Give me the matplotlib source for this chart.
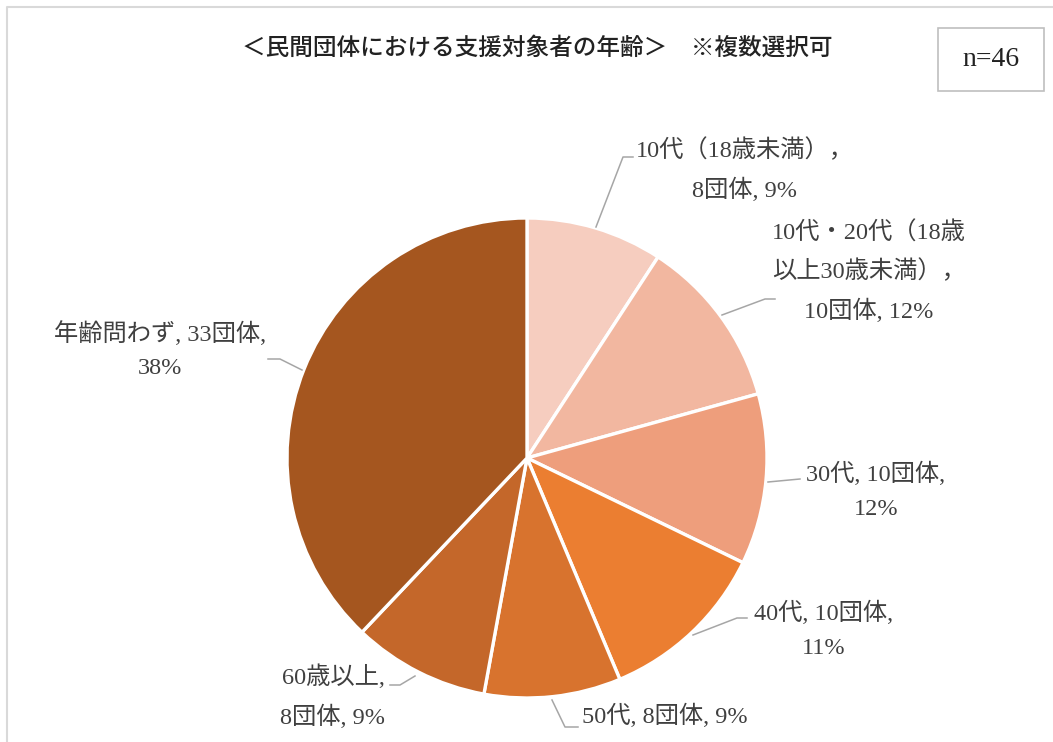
import matplotlib.pyplot as plt
from matplotlib.patches import Rectangle

# data
labels = ['10代（18歳未満），\n8団体, 9%',
          '10代・20代（18歳\n以上30歳未満），\n10団体, 12%',
          '30代, 10団体,\n12%',
          '40代, 10団体,\n11%',
          '50代, 8団体, 9%',
          '60歳以上,\n8団体, 9%',
          '年齢問わず, 33団体,\n38%']
counts = [8, 10, 10, 10, 8, 8, 33]
colors = ['#F6CDBF', '#F2B7A0', '#EE9E7C', '#EB7E31', '#D8732E', '#C4672A', '#A5561F']

# label positions (pixel coords, y from top) and leader lines
label_pos = [(745, 170), (869, 272), (876, 491), (824, 630), (665, 716), (333, 697), (160, 350)]
leaders = [
    [(596, 227), (623, 157), (633, 157)],
    [(722, 315), (765, 299), (775, 299)],
    [(768, 482), (800, 479)],
    [(693, 635), (737, 618), (747, 618)],
    [(552, 700), (565, 727), (578, 727)],
    [(415, 676), (400, 685), (390, 685)],
    [(302, 370), (280, 359), (268, 359)],
]

W, H = 1053, 742
fig = plt.figure(figsize=(W / 100, H / 100), dpi=100)
ax = fig.add_axes([0, 0, 1, 1])

cx, cy, r = 527, H - 458, 240
ax.pie(counts, colors=colors, startangle=90, counterclock=False,
       center=(cx, cy), radius=r, frame=True,
       wedgeprops=dict(edgecolor='white', linewidth=2.4))
ax.set_xlim(0, W)
ax.set_ylim(0, H)
ax.axis('off')

lab_font = ['Liberation Serif', 'Noto Sans CJK JP']
for txt, (x, y) in zip(labels, label_pos):
    ax.text(x, H - y, txt, ha='center', va='center', fontsize=17.5,
            family=lab_font, color='#404040', linespacing=1.8)

for pts in leaders:
    xs = [p[0] for p in pts]
    ys = [H - p[1] for p in pts]
    ax.plot(xs, ys, color='#A6A6A6', lw=1.1)

# title
ax.text(537, H - 48, '＜民間団体における支援対象者の年齢＞　※複数選択可',
        ha='center', va='center', fontsize=17, family=['Noto Sans CJK JP'],
        weight='medium', color='#222222')

# n box
ax.add_patch(Rectangle((938, H - 91), 106, 63, fill=False, edgecolor='#BFBFBF', lw=1.2))
ax.text(991, H - 59, 'n=46', ha='center', va='center', fontsize=20,
        family=lab_font, color='#222222')

# outer chart border (top and left visible)
ax.plot([7, 7, W + 5], [-5, H - 7, H - 7], color='#D9D9D9', lw=1.5)

fig.savefig('out.png', dpi=100)
